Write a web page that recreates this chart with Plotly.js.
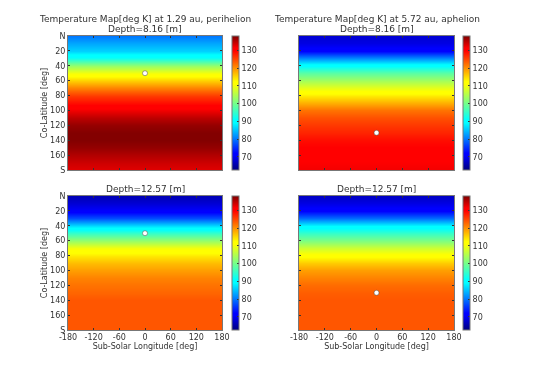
<!DOCTYPE html>
<html><head><meta charset="utf-8">
<script src="https://cdn.plot.ly/plotly-3.0.1.min.js"></script>
<style>html,body{margin:0;padding:0;background:#fff}#p{width:547px;height:367px;filter:blur(0.35px)}</style>
</head><body><div id="p"></div><script>
const longitudes=[-180,0,180];
const coLatitudes=[0,10,20,30,40,50,60,70,80,90,100,110,120,130,140,150,160,170,180];
const periDepth8=[80,83,86,92,103,110,116,121,126,129,132,135,137,138,138,137,135.5,134,133];
const aphDepth8=[68,69,72,81,91,98,104,109,114,118,122,124.5,126,127.5,129,130,131,131.5,132];
const periDepth12=[66,68,71,77,87,95,103,110,114,117,119,121,122,123,124,124,124,124,124];
const aphDepth12=[67,69,72,79,89,95,101,107,112,116,119,121,122.5,123.5,124,124,124,124,124];
const profiles=[periDepth8,aphDepth8,periDepth12,aphDepth12];
const subSolarLon=[0,0,0,0];
const subSolarColat=[50,130,50,130];
const yTicks=[0,20,40,60,80,100,120,140,160,180];
const yLabels=['N','20','40','60','80','100','120','140','160','S'];
const xTicks=[-180,-120,-60,0,60,120,180];
const xLabels=['-180','-120','-60','0','60','120','180'];
const cbTicks=[70,80,90,100,110,120,130];
const titleLines=[['Temperature Map[deg K] at 1.29 au, perihelion','Depth=8.16 [m]'],['Temperature Map[deg K] at 5.72 au, aphelion','Depth=8.16 [m]'],['Depth=12.57 [m]'],['Depth=12.57 [m]']];
const jet=[[0,'#00007f'],[0.11,'#0000ff'],[0.125,'#0000ff'],[0.35,'#00ffff'],[0.375,'#00ffff'],[0.64,'#ffff00'],[0.66,'#ffff00'],[0.89,'#ff0000'],[0.91,'#ff0000'],[1,'#7f0000']];
const W=547,H=367,FONT='"DejaVu Sans",sans-serif',TXT='#333';
const boxes=[[68,222,36,170,232,239],[299,454,36,170,463,470],[68,222,196,330,232,239],[299,454,196,330,463,470]];
const data=[],layout={width:W,height:H,margin:{l:0,r:0,t:0,b:0},paper_bgcolor:'#fff',plot_bgcolor:'#fff',showlegend:false,annotations:[],font:{family:FONT,size:8,color:TXT}};
boxes.forEach((b,i)=>{
  const n=i+1,sx=n===1?'':n,xa='xaxis'+sx,ya='yaxis'+sx;
  data.push({type:'heatmap',x:longitudes,y:coLatitudes,z:profiles[i].map(v=>longitudes.map(()=>v)),xaxis:'x'+sx,yaxis:'y'+sx,
    zmin:62.5,zmax:138.2,zsmooth:'best',colorscale:jet,hoverinfo:'skip',
    colorbar:{x:b[4]/W,xanchor:'left',xref:'paper',y:1-b[3]/H,yanchor:'bottom',yref:'paper',len:(b[3]-b[2])/H,lenmode:'fraction',thickness:b[5]-b[4],thicknessmode:'pixels',
      tickmode:'array',tickvals:cbTicks,ticks:'inside',ticklen:2,tickcolor:'#333',tickfont:{size:8,family:FONT,color:TXT},outlinecolor:'#777',outlinewidth:1,xpad:0,ypad:0,borderwidth:0}});
  data.push({type:'scatter',mode:'markers',x:[subSolarLon[i]],y:[subSolarColat[i]],xaxis:'x'+sx,yaxis:'y'+sx,marker:{size:5,color:'#fff',line:{color:'#444',width:0.5}},hoverinfo:'skip'});
  const bottom=i>=2,left=i%2===0;
  layout[xa]={domain:[b[0]/W,b[1]/W],range:[-180,180],anchor:'y'+sx,tickmode:'array',tickvals:xTicks,ticktext:xLabels,showticklabels:bottom,ticks:'inside',ticklen:2,tickcolor:'#333',showline:true,linecolor:'#777',linewidth:1,mirror:'ticks',showgrid:false,zeroline:false,tickfont:{size:8,family:FONT,color:TXT},ticklabelstandoff:-1,
    title:bottom?{text:'Sub-Solar Longitude [deg]',font:{size:8,family:FONT,color:TXT},standoff:0}:{text:''}};
  layout[ya]={domain:[1-b[3]/H,1-b[2]/H],range:[180,0],anchor:'x'+sx,tickmode:'array',tickvals:yTicks,ticktext:yLabels,showticklabels:left,ticks:'inside',ticklen:2,tickcolor:'#333',showline:true,linecolor:'#777',linewidth:1,mirror:'ticks',showgrid:false,zeroline:false,tickfont:{size:8,family:FONT,color:TXT},
    title:left?{text:'Co-Latitude [deg]',font:{size:8,family:FONT,color:TXT},standoff:1}:{text:''}};
  const lines=titleLines[i];
  lines.forEach((t,k)=>{
    const cy=b[2]-7-(lines.length-1-k)*10;
    layout.annotations.push({xref:'paper',yref:'paper',x:(b[0]+b[1])/2/W,y:1-cy/H,xanchor:'center',yanchor:'middle',showarrow:false,text:t,font:{size:9,family:FONT,color:TXT},align:'center'});
  });
});
Plotly.newPlot('p',data,layout,{staticPlot:true,displayModeBar:false});
</script></body></html>
